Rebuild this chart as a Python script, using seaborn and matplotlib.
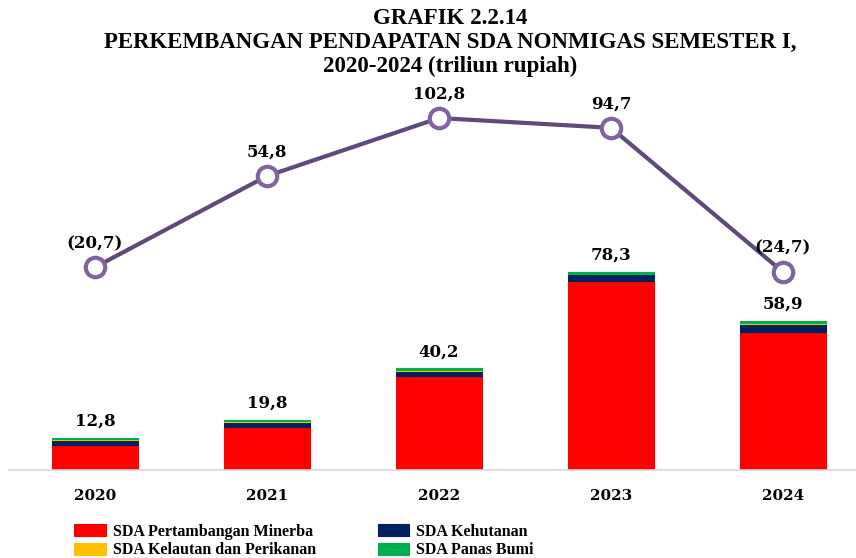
import numpy as np
import pandas as pd
import matplotlib
matplotlib.use("Agg")
import matplotlib.pyplot as plt
import seaborn as sns

years = ["2020", "2021", "2022", "2023", "2024"]
minerba = [10.0, 17.0, 37.2, 74.6, 54.7]
kehutanan = [2.0, 2.1, 2.1, 2.8, 3.0]
kelautan = [0.2, 0.2, 0.3, 0.2, 0.4]
panas_bumi = [0.6, 0.5, 0.6, 0.7, 0.8]
totals = [12.8, 19.8, 40.2, 78.3, 58.9]
growth = [-20.7, 54.8, 102.8, 94.7, -24.7]

series = [
    ("SDA Pertambangan Minerba", minerba, "#FF0000"),
    ("SDA Kehutanan", kehutanan, "#002060"),
    ("SDA Kelautan dan Perikanan", kelautan, "#FFC000"),
    ("SDA Panas Bumi", panas_bumi, "#00B050"),
]

sns.set_style("white")
plt.rcParams["font.family"] = ["Liberation Serif", "DejaVu Serif"]
plt.rcParams["text.color"] = "black"
plt.rcParams["xtick.color"] = "black"
num_font = {"family": "DejaVu Serif", "weight": "bold", "size": 12}

fig = plt.figure(figsize=(8.56, 5.58), dpi=100)
W, H = 856, 558
ax = fig.add_axes([9 / W, 88 / H, 847 / W, 380 / H])

bottom = np.zeros(len(years))
for name, vals, col in series:
    sns.barplot(x=years, y=vals, bottom=bottom, color=col, width=0.5,
                ax=ax, label=name, edgecolor=col, linewidth=0.8, saturation=1)
    bottom += np.array(vals)

ax.set_xlim(-0.5, -0.5 + 847 / 172)
ax.set_ylim(0, 150.2)
for i, t in enumerate(totals):
    ax.text(i, t + 3.2, f"{t:.1f}".replace(".", ","), ha="center", va="bottom",
            fontdict=num_font)

for s in ["top", "right", "left"]:
    ax.spines[s].set_visible(False)
ax.spines["bottom"].set_color("#D9D9D9")
ax.spines["bottom"].set_linewidth(1.2)
ax.set_yticks([])
ax.set_ylabel("")
ax.tick_params(axis="x", length=0, pad=14)
for lbl in ax.get_xticklabels():
    lbl.set_fontfamily("DejaVu Serif")
    lbl.set_fontsize(11)
    lbl.set_fontweight("bold")

ax2 = ax.twinx()
sns.lineplot(x=np.arange(len(years)), y=growth, ax=ax2, color="#604A7B",
             linewidth=3, marker="o", markersize=14, markerfacecolor="white",
             markeredgecolor="#8064A2", markeredgewidth=3)
ax2.set_ylim(-188.6, 126.0)
ax2.set_axis_off()
for i, g in enumerate(growth):
    txt = f"{abs(g):.1f}".replace(".", ",")
    if g < 0:
        txt = f"({txt})"
    ax2.annotate(txt, (i, g), xytext=(0, 11), textcoords="offset points",
                 ha="center", va="bottom", fontfamily="DejaVu Serif",
                 fontsize=12, fontweight="bold")

handles, labels = ax.get_legend_handles_labels()
order = [0, 2, 1, 3]
ax.legend([handles[i] for i in order], [labels[i] for i in order],
          ncol=2, loc="lower left", bbox_to_anchor=(68 / W, -0.012),
          bbox_transform=fig.transFigure, frameon=False, borderaxespad=0,
          prop={"size": 11.5, "weight": "bold"}, handlelength=1.95,
          handleheight=0.75, columnspacing=3.9, labelspacing=0.15,
          handletextpad=0.45)

fig.text(0.526, 1 - 19 / H, "GRAFIK 2.2.14", ha="center", va="center",
         fontsize=16.5, fontweight="bold")
fig.text(0.526, 1 - 42 / H, "PERKEMBANGAN PENDAPATAN SDA NONMIGAS SEMESTER I,",
         ha="center", va="center", fontsize=16.5, fontweight="bold")
fig.text(0.526, 1 - 66 / H, "2020-2024 (triliun rupiah)", ha="center",
         va="center", fontsize=16.5, fontweight="bold")

fig.savefig("out.png", dpi=100)
